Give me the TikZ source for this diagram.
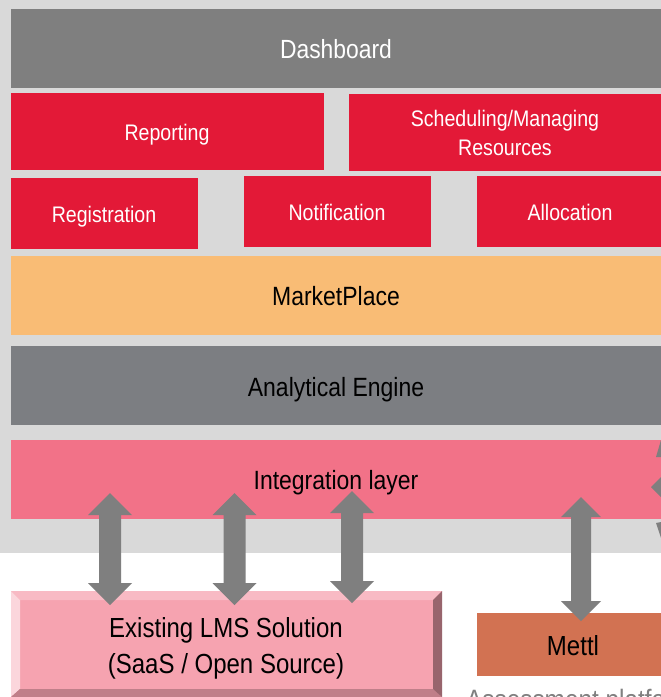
\documentclass[tikz,border=0pt]{standalone}
\usepackage{fontspec}
\setmainfont[FakeStretch=0.87]{Liberation Sans}
\definecolor{bgG}{HTML}{D9D9D9}
\definecolor{dashG}{HTML}{7F7F7F}
\definecolor{redB}{HTML}{E31937}
\definecolor{orangeB}{HTML}{F9BC75}
\definecolor{engineG}{HTML}{7C7E82}
\definecolor{pinkB}{HTML}{F27288}
\definecolor{lmsB}{HTML}{F6A3B0}
\definecolor{mettlB}{HTML}{D27252}
\definecolor{capT}{HTML}{808080}
\tikzset{
  x=1pt,y=-1pt,
  redlab/.style={text=white,align=center,inner sep=0pt,font=\fontsize{22.5}{29}\selectfont},
  blacklab/.style={text=black,align=center,inner sep=0pt,font=\fontsize{26.4}{36}\selectfont},
  biglab/.style={text=black,align=center,inner sep=0pt,font=\fontsize{27.6}{36}\selectfont},
  dblarrow/.style={fill=dashG,draw=none}
}
\newcommand{\dblarrowv}[6]{% name, x, top, bottom, half head, half shaft
  \fill[dblarrow] (#2,#3) -- (#2+#5,#3+#5) -- (#2+#6,#3+#5) -- (#2+#6,#4-#5) -- (#2+#5,#4-#5) -- (#2,#4) -- (#2-#5,#4-#5) -- (#2-#6,#4-#5) -- (#2-#6,#3+#5) -- (#2-#5,#3+#5) -- cycle;
  \coordinate (#1) at (#2,#3);
}
\begin{document}
\begin{tikzpicture}
\useasboundingbox (0,0) rectangle (661,697);
\clip (0,0) rectangle (661,697);
\fill[white] (0,0) rectangle (661,697);
\fill[bgG] (0,0) rectangle (661,553);
% blocks
\fill[dashG] (11,9) rectangle (661,88);
\node[redlab,font=\fontsize{26.3}{30}\selectfont] (dash) at (336,49) {Dashboard};
\fill[redB] (11,93) rectangle (324,170);
\node[redlab] (rep) at (167,135) {Reporting};
\fill[redB] (349,94) rectangle (661,171);
\node[redlab] (sch) at (505,133) {Scheduling/Managing\\Resources};
\fill[redB] (11,178) rectangle (198,249);
\node[redlab] (reg) at (104,217) {Registration};
\fill[redB] (244,176) rectangle (431,247);
\node[redlab] (not) at (337,212) {Notification};
\fill[redB] (477,176) rectangle (661,247);
\node[redlab] (all) at (570,212) {Allocation};
\fill[orangeB] (11,256) rectangle (661,335);
\node[blacklab] (mkt) at (336,296) {MarketPlace};
\fill[engineG] (11,346) rectangle (661,425);
\node[blacklab] (eng) at (336,390) {Analytical Engine};
\fill[pinkB] (11,440) rectangle (661,519);
\node[blacklab] (int) at (336,483) {Integration layer};
% LMS bevel box
\fill[lmsB] (11,591) rectangle (442,697);
\fill[lmsB!75!white] (11,591) -- (442,591) -- (433,600) -- (20,600) -- cycle;
\fill[lmsB!45!white] (11,591) -- (20,600) -- (20,689) -- (11,697) -- cycle;
\fill[lmsB!78!black] (11,697) -- (20,689) -- (433,689) -- (442,697) -- cycle;
\fill[lmsB!62!black] (442,591) -- (433,600) -- (433,689) -- (442,697) -- cycle;
\node[biglab] (lms) at (226,648) {Existing LMS Solution\\(SaaS / Open Source)};
% Mettl
\fill[mettlB] (477,613) rectangle (661,676);
\node[biglab] (met) at (573,646) {Mettl};
\node[text=capT,anchor=base west,inner sep=0pt,font=\fontsize{28}{32}\selectfont] (cap) at (466,709) {Assessment platform};
% arrows
\dblarrowv{a1}{110}{493}{605}{22}{11}
\dblarrowv{a2}{234.5}{493}{605}{22}{11}
\dblarrowv{a3}{352}{491}{603}{22}{11}
\dblarrowv{a4}{581}{497}{621}{20}{10}
% pieces of a further arrow, cut by the right edge
\fill[dblarrow] (651,487) -- (661,477) -- (661,497) -- cycle;
\fill[dblarrow] (656,457) -- (661,440) -- (661,457) -- cycle;
\fill[dblarrow] (656,523) -- (661,522) -- (661,538) -- cycle;
\end{tikzpicture}
\end{document}
